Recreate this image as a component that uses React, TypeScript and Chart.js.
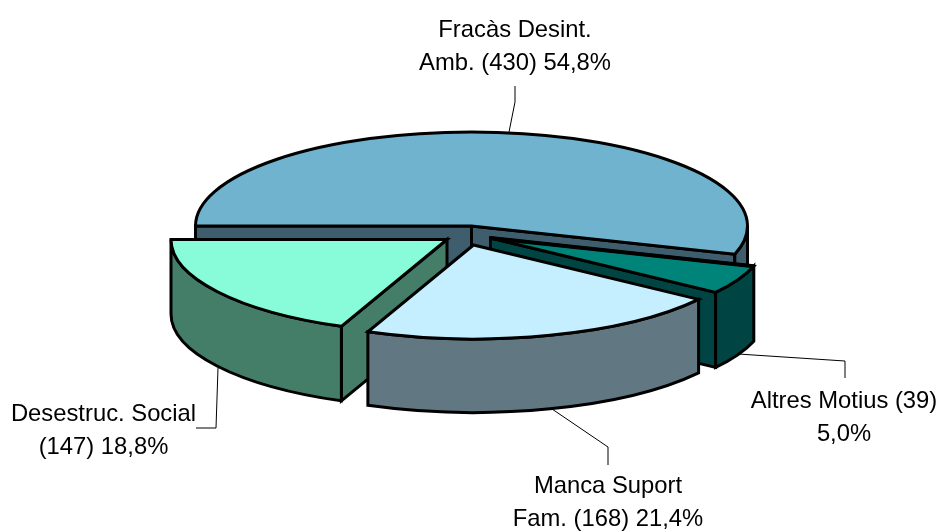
import React, { useEffect, useRef } from "react";
import { Chart, registerables } from "chart.js";

Chart.register(...registerables);

const categories = ["Fracàs Desint. Amb.", "Altres Motius", "Manca Suport Fam.", "Desestruc. Social"];
const counts = [430, 39, 168, 147];
const labelLines = [
  ["Fracàs Desint.", "Amb. (430) 54,8%"],
  ["Altres Motius (39)", "5,0%"],
  ["Manca Suport", "Fam. (168) 21,4%"],
  ["Desestruc. Social", "(147) 18,8%"],
];
const topColors = ["#70B3CF", "#00847A", "#C5EFFF", "#88FBD8"];
const wallColors = ["#3E5E6E", "#004543", "#617782", "#447E68"];
// style: where each slice's apex sits on the page, paint order, label anchors and leader lines
const apexes = [[471.5, 226], [490.5, 238], [473.5, 245], [447, 239.5]];
const depths = [75, 75, 73.5, 74.5];
const backEdgeWidths = [0, 4, 0, 0];
const paintOrder = [0, 1, 3, 2];
const labelAnchors = [[515, 30], [844, 401], [608, 486], [103.5, 414]];
const leaders = [
  [[515, 86], [515, 102], [509, 132]],
  [[738, 354], [845, 361], [845, 378]],
  [[552, 409], [608, 447], [608, 465]],
  [[218, 368], [216, 428], [196, 428]],
];
const RADIUS = 276;
const SQUASH = 94 / 276;
const LINE = 3;
const FONT = '23.8px "Liberation Sans", Arial, sans-serif';
const LINE_GAP = 33;

const pie3d = {
  id: "pie3d",
  beforeDatasetsDraw(chart: any) {
    const ctx: CanvasRenderingContext2D = chart.ctx;
    const arcs = chart.getDatasetMeta(0).data;
    ctx.save();
    ctx.lineJoin = "miter";
    ctx.miterLimit = 10;

    ctx.strokeStyle = "#000";
    ctx.lineWidth = 1;
    for (const pts of leaders) {
      ctx.beginPath();
      pts.forEach(([x, y], i) => (i ? ctx.lineTo(x, y) : ctx.moveTo(x, y)));
      ctx.stroke();
    }

    for (const i of paintOrder) {
      const el = arcs[i];
      const [cx, cy] = apexes[i];
      const depth = depths[i];
      const rx = el.outerRadius;
      const ry = rx * SQUASH;
      const a0 = el.startAngle;
      const a1 = el.endAngle;
      const px = (a: number) => cx + rx * Math.cos(a);
      const py = (a: number) => cy + ry * Math.sin(a);
      ctx.fillStyle = wallColors[i];
      ctx.strokeStyle = "#000";
      ctx.lineWidth = LINE;

      const face = (a: number) => {
        ctx.beginPath();
        ctx.moveTo(cx, cy);
        ctx.lineTo(px(a), py(a));
        ctx.lineTo(px(a), py(a) + depth);
        ctx.lineTo(cx, cy + depth);
        ctx.closePath();
        ctx.fill();
        ctx.stroke();
      };
      if (Math.cos(a0) < 0) face(a0);
      if (Math.cos(a1) > 0) face(a1);

      // front-facing part of the rim: angles inside [0, PI] modulo a full turn
      for (const k of [0, 1]) {
        const lo = Math.max(a0, k * 2 * Math.PI);
        const hi = Math.min(a1, k * 2 * Math.PI + Math.PI);
        if (hi <= lo) continue;
        ctx.beginPath();
        ctx.ellipse(cx, cy, rx, ry, 0, lo, hi);
        ctx.lineTo(px(hi), py(hi) + depth);
        ctx.ellipse(cx, cy + depth, rx, ry, 0, hi, lo, true);
        ctx.closePath();
        ctx.fill();
        ctx.stroke();
      }

      // top face: the library's own arc, squashed onto the ellipse
      ctx.save();
      ctx.translate(cx, cy);
      ctx.scale(1, SQUASH);
      ctx.translate(-el.x, -el.y);
      el.draw(ctx);
      ctx.restore();

      ctx.beginPath();
      ctx.moveTo(cx, cy);
      ctx.ellipse(cx, cy, rx, ry, 0, a0, a1);
      ctx.closePath();
      ctx.stroke();

      if (backEdgeWidths[i]) {
        ctx.lineWidth = backEdgeWidths[i];
        ctx.beginPath();
        ctx.moveTo(cx, cy);
        ctx.lineTo(px(a0), py(a0));
        ctx.stroke();
      }
    }

    ctx.fillStyle = "#000";
    ctx.font = FONT;
    ctx.textAlign = "center";
    ctx.textBaseline = "middle";
    labelLines.forEach((lines, i) => {
      lines.forEach((t, j) => ctx.fillText(t, labelAnchors[i][0], labelAnchors[i][1] + j * LINE_GAP));
    });
    ctx.restore();
    return false;
  },
};

export default function App() {
  const ref = useRef<HTMLCanvasElement>(null);
  useEffect(() => {
    const chart = new Chart(ref.current as HTMLCanvasElement, {
      type: "pie",
      data: {
        labels: categories,
        datasets: [
          {
            data: counts,
            backgroundColor: topColors,
            borderWidth: 0,
            radius: RADIUS,
          } as any,
        ],
      },
      options: {
        responsive: false,
        animation: false,
        rotation: 270,
        plugins: { legend: { display: false }, tooltip: { enabled: false }, title: { display: false } },
      },
      plugins: [pie3d as any],
    });
    return () => chart.destroy();
  }, []);
  return (
    <div style={{ position: "absolute", left: 0, top: 0, width: 939, height: 532, background: "#fff" }}>
      <canvas ref={ref} width={939} height={532} style={{ display: "block" }} />
    </div>
  );
}
